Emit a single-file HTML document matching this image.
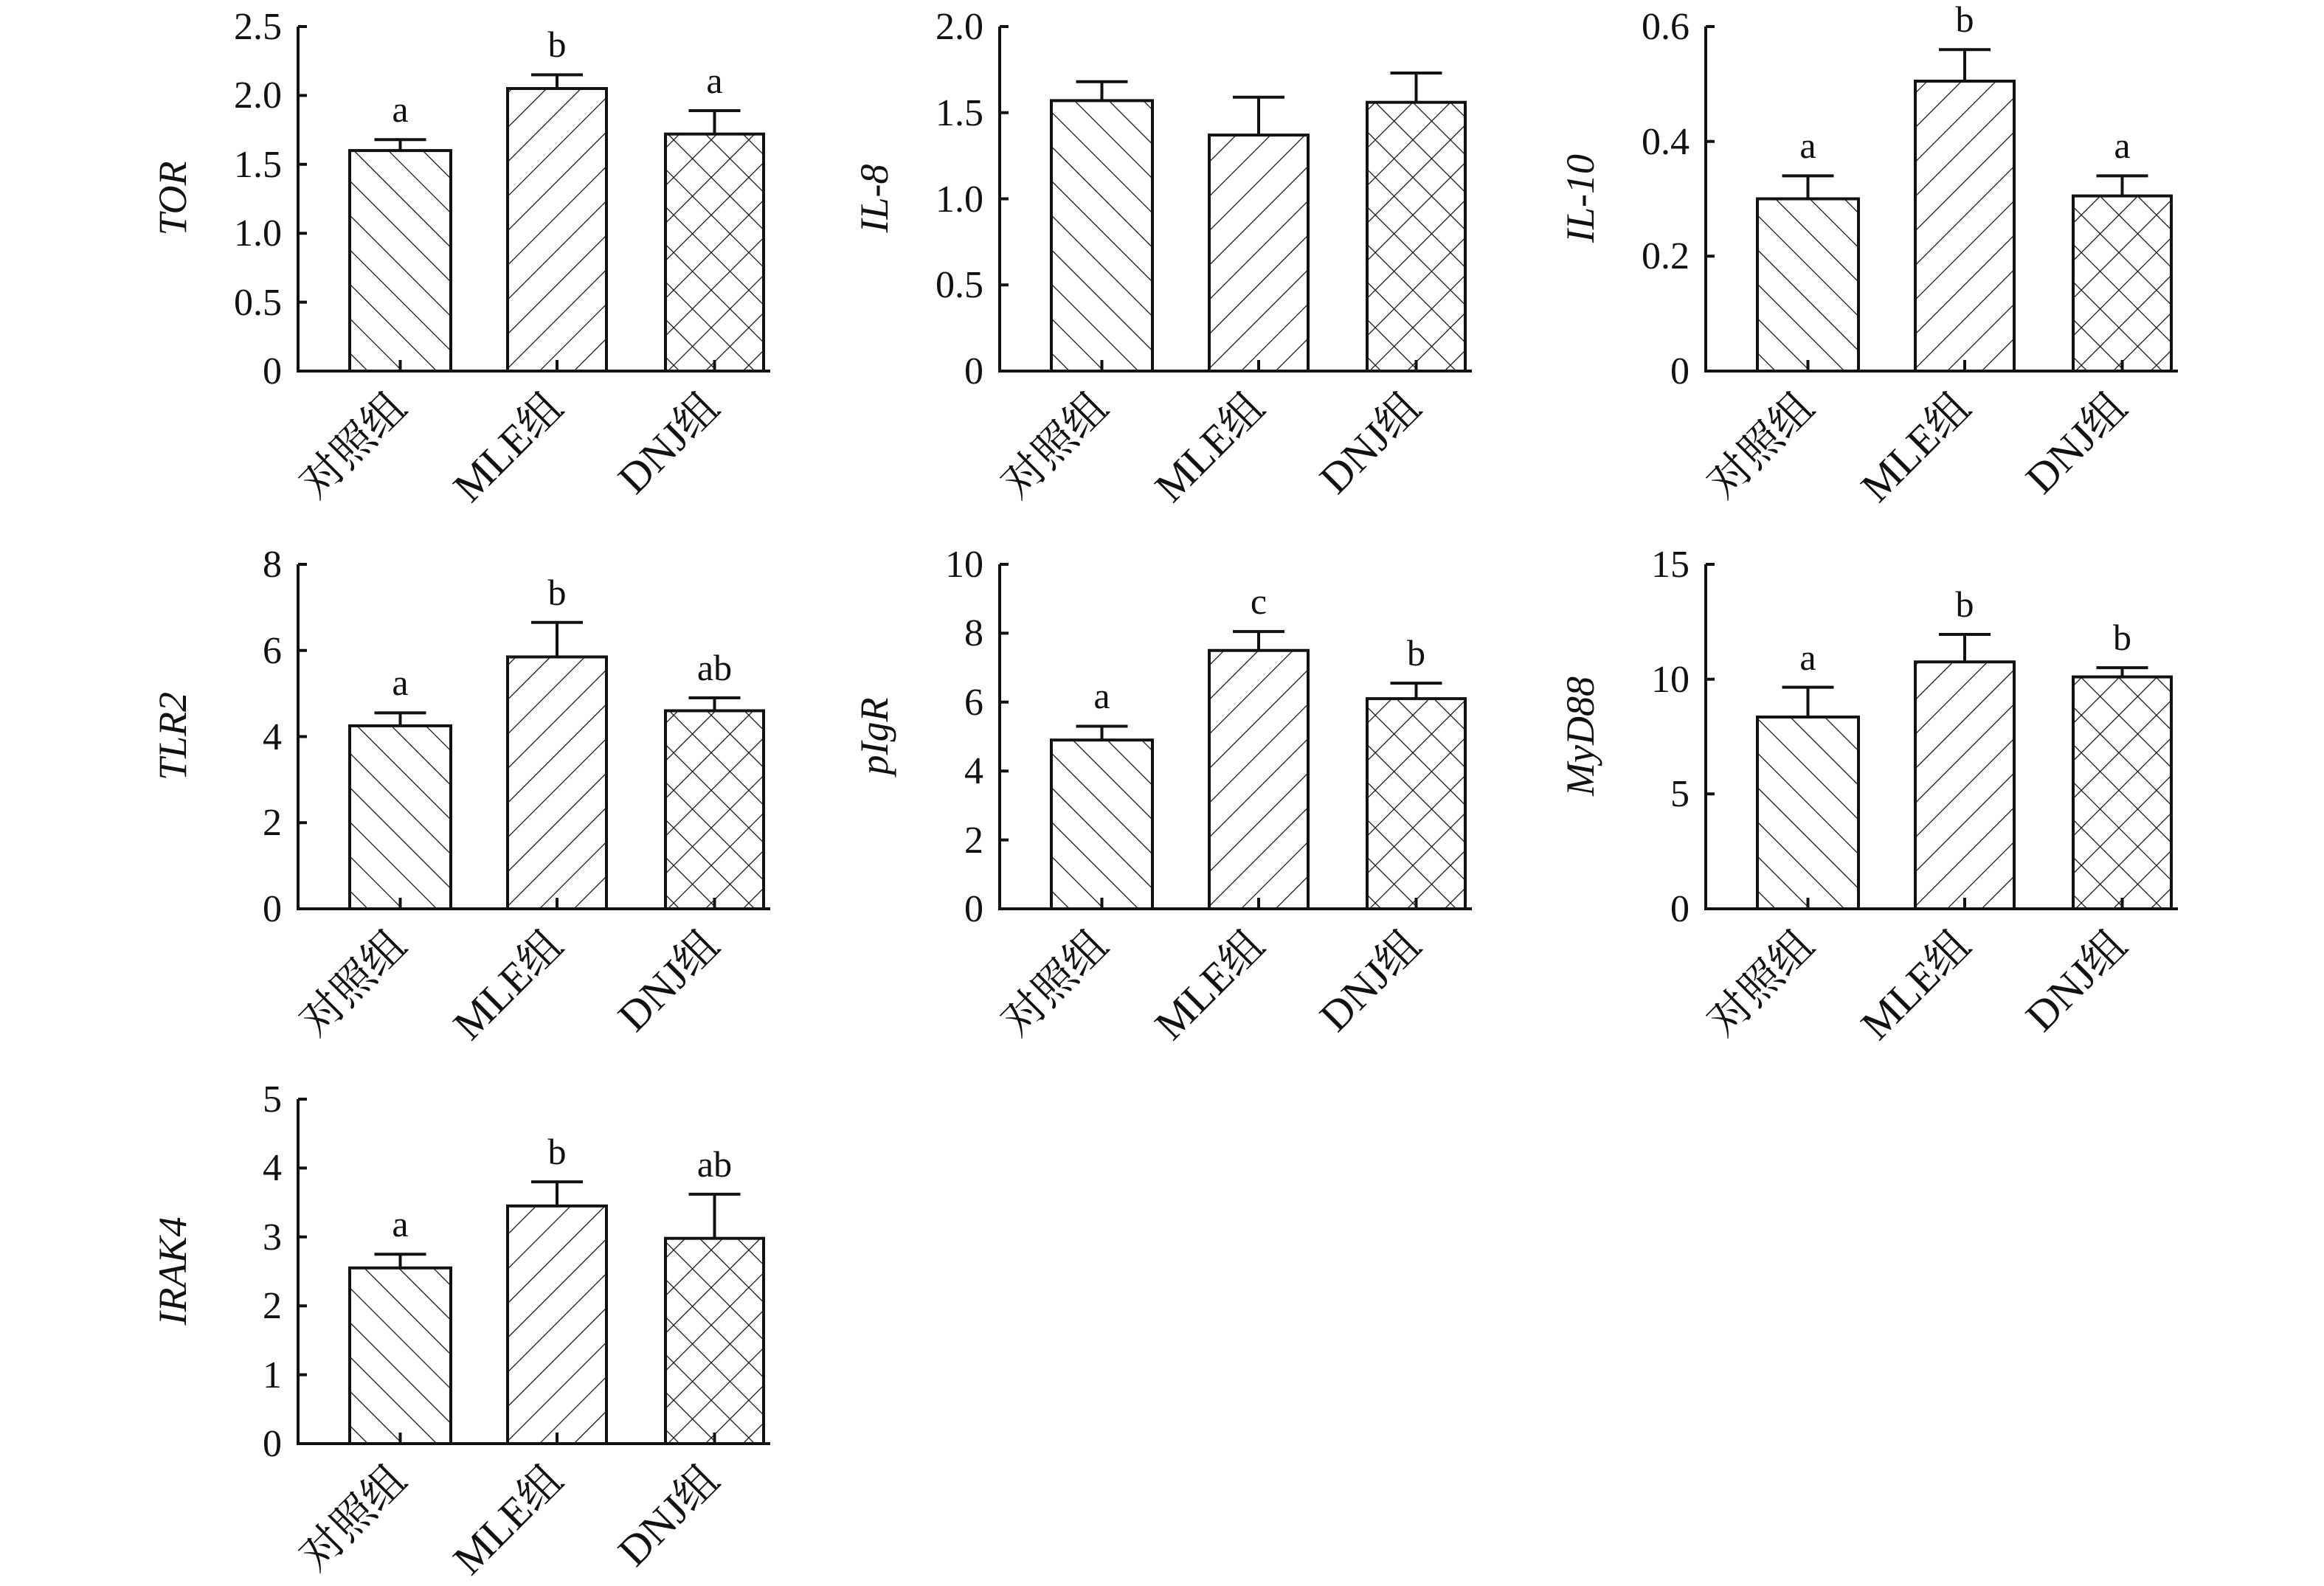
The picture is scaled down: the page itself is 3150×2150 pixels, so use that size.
<!DOCTYPE html>
<html><head><meta charset="utf-8"><style>
html,body{margin:0;padding:0;background:#fff;}
svg{display:block;}
text{font-family:"Liberation Serif","Noto Serif CJK SC",serif;fill:#111;}
.t{font-size:52px;text-anchor:end;}
.yl{font-size:54px;font-style:italic;text-anchor:middle;}
.xl{font-size:58px;text-anchor:end;}
.lt{font-size:50px;text-anchor:middle;}
.ax{stroke:#111;stroke-width:4;fill:none;}
.bar{stroke:#111;stroke-width:4;}
.eb{stroke:#111;stroke-width:4;fill:none;}
</style></head><body>
<svg width="3150" height="2150" viewBox="0 0 3150 2150" xmlns="http://www.w3.org/2000/svg">
<defs>
<pattern id="bs" patternUnits="userSpaceOnUse" width="33" height="33" patternTransform="rotate(-45)"><line x1="0" y1="0" x2="0" y2="33" stroke="#111" stroke-width="2.5"/></pattern>
<pattern id="fs" patternUnits="userSpaceOnUse" width="33" height="33" patternTransform="rotate(45)"><line x1="0" y1="0" x2="0" y2="33" stroke="#111" stroke-width="2.5"/></pattern>
<pattern id="cr" patternUnits="userSpaceOnUse" width="36" height="36" patternTransform="rotate(45)"><line x1="0" y1="0" x2="0" y2="36" stroke="#111" stroke-width="2.5"/><line x1="0" y1="0" x2="36" y2="0" stroke="#111" stroke-width="2.5"/></pattern>
<g id="xlab">
<text class="xl" transform="translate(150,520) rotate(-45)">对照组</text>
<text class="xl" transform="translate(362,520) rotate(-45)">MLE组</text>
<text class="xl" transform="translate(574,520) rotate(-45)">DNJ组</text>
</g>
</defs>

<g transform="translate(404,36)">
<rect x="70" y="168.1" width="137" height="298.9" fill="url(#bs)" class="bar"/>
<rect x="284" y="84" width="134" height="383" fill="url(#fs)" class="bar"/>
<rect x="498" y="145.7" width="133" height="321.3" fill="url(#cr)" class="bar"/>
<path class="eb" d="M138.5 168.1V153.2M103.5 153.2H173.5M351 84V65.4M316 65.4H386M564.5 145.7V114M529.5 114H599.5"/>
<path class="ax" d="M0 0V467H640M0 0H12M0 93.4H12M0 186.8H12M0 280.2H12M0 373.6H12M138.5 467V452M351 467V452M564.5 467V452"/>
<text class="t" x="-22" y="17">2.5</text><text class="t" x="-22" y="110">2.0</text><text class="t" x="-22" y="204">1.5</text><text class="t" x="-22" y="297">1.0</text><text class="t" x="-22" y="391">0.5</text><text class="t" x="-22" y="484">0</text>
<text class="yl" transform="translate(-152,233) rotate(-90)">TOR</text>
<text class="lt" x="138.5" y="129">a</text><text class="lt" x="351" y="41">b</text><text class="lt" x="564.5" y="90">a</text>
<use href="#xlab"/>
</g>

<g transform="translate(1355,36)">
<rect x="70" y="100.4" width="137" height="366.6" fill="url(#bs)" class="bar"/>
<rect x="284" y="147.1" width="134" height="319.9" fill="url(#fs)" class="bar"/>
<rect x="498" y="102.7" width="133" height="364.3" fill="url(#cr)" class="bar"/>
<path class="eb" d="M138.5 100.4V74.7M103.5 74.7H173.5M351 147.1V95.7M316 95.7H386M564.5 102.7V63M529.5 63H599.5"/>
<path class="ax" d="M0 0V467H640M0 0H12M0 116.75H12M0 233.5H12M0 350.25H12M138.5 467V452M351 467V452M564.5 467V452"/>
<text class="t" x="-22" y="17">2.0</text><text class="t" x="-22" y="134">1.5</text><text class="t" x="-22" y="251">1.0</text><text class="t" x="-22" y="367">0.5</text><text class="t" x="-22" y="484">0</text>
<text class="yl" transform="translate(-152,233) rotate(-90)">IL-8</text>
<use href="#xlab"/>
</g>

<g transform="translate(2312,36)">
<rect x="70" y="233.5" width="137" height="233.5" fill="url(#bs)" class="bar"/>
<rect x="284" y="74" width="134" height="393" fill="url(#fs)" class="bar"/>
<rect x="498" y="229.6" width="133" height="237.4" fill="url(#cr)" class="bar"/>
<path class="eb" d="M138.5 233.5V202.4M103.5 202.4H173.5M351 74V31.2M316 31.2H386M564.5 229.6V202.4M529.5 202.4H599.5"/>
<path class="ax" d="M0 0V467H640M0 0H12M0 155.7H12M0 311.3H12M138.5 467V452M351 467V452M564.5 467V452"/>
<text class="t" x="-22" y="17">0.6</text><text class="t" x="-22" y="173">0.4</text><text class="t" x="-22" y="328">0.2</text><text class="t" x="-22" y="484">0</text>
<text class="yl" transform="translate(-152,233) rotate(-90)">IL-10</text>
<text class="lt" x="138.5" y="178">a</text><text class="lt" x="351" y="7">b</text><text class="lt" x="564.5" y="178">a</text>
<use href="#xlab"/>
</g>

<g transform="translate(404,765)">
<rect x="70" y="218.9" width="137" height="248.1" fill="url(#bs)" class="bar"/>
<rect x="284" y="125.5" width="134" height="341.5" fill="url(#fs)" class="bar"/>
<rect x="498" y="198.5" width="133" height="268.5" fill="url(#cr)" class="bar"/>
<path class="eb" d="M138.5 218.9V201.4M103.5 201.4H173.5M351 125.5V78.8M316 78.8H386M564.5 198.5V181M529.5 181H599.5"/>
<path class="ax" d="M0 0V467H640M0 0H12M0 116.75H12M0 233.5H12M0 350.25H12M138.5 467V452M351 467V452M564.5 467V452"/>
<text class="t" x="-22" y="17">8</text><text class="t" x="-22" y="134">6</text><text class="t" x="-22" y="251">4</text><text class="t" x="-22" y="367">2</text><text class="t" x="-22" y="484">0</text>
<text class="yl" transform="translate(-152,233) rotate(-90)">TLR2</text>
<text class="lt" x="138.5" y="177">a</text><text class="lt" x="351" y="55">b</text><text class="lt" x="564.5" y="157">ab</text>
<use href="#xlab"/>
</g>

<g transform="translate(1355,765)">
<rect x="70" y="238.2" width="137" height="228.8" fill="url(#bs)" class="bar"/>
<rect x="284" y="116.75" width="134" height="350.25" fill="url(#fs)" class="bar"/>
<rect x="498" y="182.1" width="133" height="284.9" fill="url(#cr)" class="bar"/>
<path class="eb" d="M138.5 238.2V219.5M103.5 219.5H173.5M351 116.75V91.1M316 91.1H386M564.5 182.1V161.1M529.5 161.1H599.5"/>
<path class="ax" d="M0 0V467H640M0 0H12M0 93.4H12M0 186.8H12M0 280.2H12M0 373.6H12M138.5 467V452M351 467V452M564.5 467V452"/>
<text class="t" x="-22" y="17">10</text><text class="t" x="-22" y="110">8</text><text class="t" x="-22" y="204">6</text><text class="t" x="-22" y="297">4</text><text class="t" x="-22" y="391">2</text><text class="t" x="-22" y="484">0</text>
<text class="yl" transform="translate(-152,233) rotate(-90)">pIgR</text>
<text class="lt" x="138.5" y="195">a</text><text class="lt" x="351" y="67">c</text><text class="lt" x="564.5" y="137">b</text>
<use href="#xlab"/>
</g>

<g transform="translate(2312,765)">
<rect x="70" y="207" width="137" height="260" fill="url(#bs)" class="bar"/>
<rect x="284" y="132.3" width="134" height="334.7" fill="url(#fs)" class="bar"/>
<rect x="498" y="152.6" width="133" height="314.4" fill="url(#cr)" class="bar"/>
<path class="eb" d="M138.5 207V166.6M103.5 166.6H173.5M351 132.3V95M316 95H386M564.5 152.6V140.1M529.5 140.1H599.5"/>
<path class="ax" d="M0 0V467H640M0 0H12M0 155.7H12M0 311.3H12M138.5 467V452M351 467V452M564.5 467V452"/>
<text class="t" x="-22" y="17">15</text><text class="t" x="-22" y="173">10</text><text class="t" x="-22" y="328">5</text><text class="t" x="-22" y="484">0</text>
<text class="yl" transform="translate(-152,233) rotate(-90)">MyD88</text>
<text class="lt" x="138.5" y="143">a</text><text class="lt" x="351" y="71">b</text><text class="lt" x="564.5" y="116">b</text>
<use href="#xlab"/>
</g>

<g transform="translate(404,1490)">
<rect x="70" y="228.8" width="137" height="238.2" fill="url(#bs)" class="bar"/>
<rect x="284" y="144.8" width="134" height="322.2" fill="url(#fs)" class="bar"/>
<rect x="498" y="188.7" width="133" height="278.3" fill="url(#cr)" class="bar"/>
<path class="eb" d="M138.5 228.8V210.2M103.5 210.2H173.5M351 144.8V112.1M316 112.1H386M564.5 188.7V128.9M529.5 128.9H599.5"/>
<path class="ax" d="M0 0V467H640M0 0H12M0 93.4H12M0 186.8H12M0 280.2H12M0 373.6H12M138.5 467V452M351 467V452M564.5 467V452"/>
<text class="t" x="-22" y="17">5</text><text class="t" x="-22" y="110">4</text><text class="t" x="-22" y="204">3</text><text class="t" x="-22" y="297">2</text><text class="t" x="-22" y="391">1</text><text class="t" x="-22" y="484">0</text>
<text class="yl" transform="translate(-152,233) rotate(-90)">IRAK4</text>
<text class="lt" x="138.5" y="186">a</text><text class="lt" x="351" y="88">b</text><text class="lt" x="564.5" y="105">ab</text>
<use href="#xlab"/>
</g>
</svg>
</body></html>
